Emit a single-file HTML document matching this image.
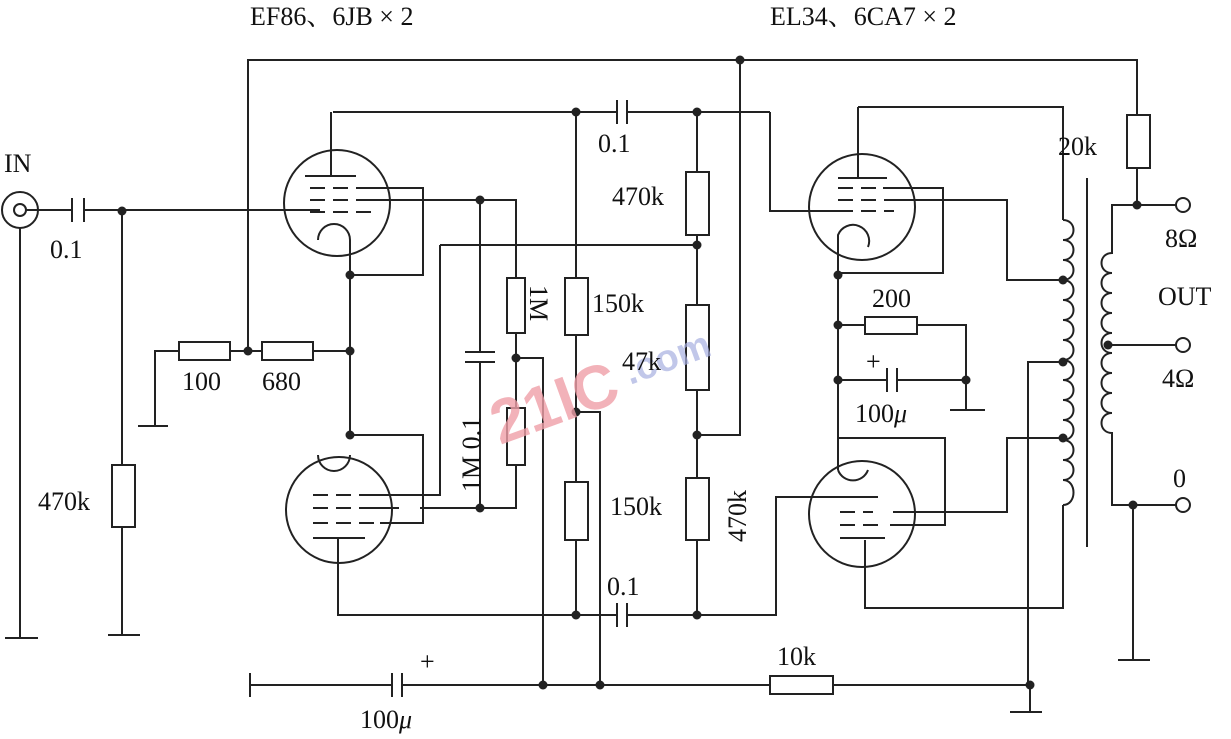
<!DOCTYPE html>
<html><head><meta charset="utf-8"><style>
html,body{margin:0;padding:0;background:#fff;}
svg{display:block;}
text{font-family:"Liberation Serif","Noto Serif CJK SC",serif;fill:#111;font-size:26px;}
</style></head><body>
<svg width="1231" height="739" viewBox="0 0 1231 739" xmlns="http://www.w3.org/2000/svg">
<g stroke="#222" stroke-width="2" fill="none">
<circle cx="20" cy="210" r="18"/><circle cx="20" cy="210" r="6"/>
<path d="M20 228V638M5 638H38"/>
<path d="M26 210H72M84 210H320"/>
<path d="M72 198V222M84 198V222"/>
<path d="M122 210V465M122 527V635M108 635H140"/>
<rect x="112" y="465" width="23" height="62"/>
<path d="M155 426V351H179M230 351H262M313 351H350M138 426H168"/>
<rect x="179" y="342" width="51" height="18"/><rect x="262" y="342" width="51" height="18"/>
<path d="M248 351V60H1137V115M1137 168V205H1176"/>
<rect x="1127" y="115" width="23" height="53"/>
<circle cx="337" cy="203" r="53"/>
<path d="M331 112V176M305 176H356M310 188h15m8 0h15m8 0h30M310 200h15m8 0h15m8 0h40M310 212h15m8 0h15m8 0h15"/>
<path d="M318 240a16 16 0 0 1 32 0V435"/>
<path d="M370 188H423V275H350"/>
<path d="M384 200H516V278M516 333V408M516 465V508H420"/>
<rect x="507" y="278" width="18" height="55"/><rect x="507" y="408" width="18" height="57"/>
<path d="M480 200V352M480 362V508M465 352H495M465 362H495"/>
<path d="M516 358H543V685"/>
<circle cx="339" cy="510" r="53"/>
<path d="M318 455a16 16 0 0 0 32 0M350 435H423V523H380"/>
<path d="M313 495h15m8 0h15m8 0h30M313 508h15m8 0h15m8 0h40M313 523h15m8 0h15m8 0h15M313 538H365"/>
<path d="M440 245V495H388M440 245H697"/>
<path d="M338 538V615H617M627 615H776V497H870M617 603V627M627 603V627"/>
<path d="M333 112H617M627 112H770M617 100V124M627 100V124"/>
<path d="M576 112V278M576 335V482M576 540V615M576 412H600V685"/>
<rect x="565" y="278" width="23" height="57"/><rect x="565" y="482" width="23" height="58"/>
<path d="M697 112V172M697 235V305M697 390V478M697 540V615M740 60V435H697"/>
<rect x="686" y="172" width="23" height="63"/><rect x="686" y="305" width="23" height="85"/><rect x="686" y="478" width="23" height="62"/>
<path d="M250 673V697M250 685H392M402 685H770M833 685H1030V712M1010 712H1042M392 673V697M402 673V697"/>
<rect x="770" y="676" width="63" height="18"/>
<path d="M770 112V211H850"/>
<circle cx="862" cy="207" r="53"/>
<path d="M858 107V178M838 178H887M838 188h15m8 0h15m8 0h30M838 200h15m8 0h15m8 0h35M838 211h15m8 0h15m8 0h10"/>
<path d="M838 470V235a16 16 0 0 1 30 12"/>
<path d="M883 188H943V273H838M890 200H1007V280H1063"/>
<path d="M838 325H865M917 325H966V410M950 410H985M838 380H887M897 380H966"/>
<rect x="865" y="317" width="52" height="17"/>
<path d="M887 368V392M897 368V392"/>
<path d="M858 107H1063V220"/>
<circle cx="862" cy="514" r="53"/>
<path d="M838 438H945V525H890M838 470a16 16 0 0 0 30 0"/>
<path d="M840 497h15m8 0h15M840 512h15m8 0h10m20 0H1007V438H1063M840 525h15m8 0h15M840 538H885"/>
<path d="M865 540V608H1063V505M1063 362H1028V685"/>
<path d="M1063 220c14 0 14 20 0 20c14 0 14 20 0 20c14 0 14 20 0 20c14 0 14 20 0 20c14 0 14 20 0 20c14 0 14 20 0 20c14 0 14 20 0 20c14 0 14 20 0 20c14 0 14 20 0 20c14 0 14 20 0 20c14 0 14 20 0 20c14 0 14 20 0 20c14 0 14 20 0 20c14 0 14 25 0 25"/>
<path d="M1087 178V547"/>
<path d="M1137 205H1112V253c-14 0-14 20 0 20c-14 0-14 20 0 20c-14 0-14 20 0 20c-14 0-14 20 0 20c-14 0-14 20 0 20c-14 0-14 20 0 20c-14 0-14 20 0 20c-14 0-14 20 0 20c-14 0-14 20 0 20V505H1176M1108 345H1176M1133 505V660M1118 660H1150"/>
<circle cx="1183" cy="205" r="7"/><circle cx="1183" cy="345" r="7"/><circle cx="1183" cy="505" r="7"/>
</g>
<g fill="#222">
<circle cx="122" cy="211" r="4.5"/><circle cx="248" cy="351" r="4.5"/><circle cx="350" cy="351" r="4.5"/>
<circle cx="350" cy="275" r="4.5"/><circle cx="350" cy="435" r="4.5"/><circle cx="480" cy="200" r="4.5"/>
<circle cx="480" cy="508" r="4.5"/><circle cx="516" cy="358" r="4.5"/><circle cx="576" cy="112" r="4.5"/>
<circle cx="697" cy="112" r="4.5"/><circle cx="697" cy="245" r="4.5"/><circle cx="697" cy="435" r="4.5"/>
<circle cx="576" cy="412" r="4.5"/><circle cx="576" cy="615" r="4.5"/><circle cx="697" cy="615" r="4.5"/>
<circle cx="740" cy="60" r="4.5"/><circle cx="543" cy="685" r="4.5"/><circle cx="600" cy="685" r="4.5"/>
<circle cx="1030" cy="685" r="4.5"/><circle cx="838" cy="275" r="4.5"/><circle cx="838" cy="325" r="4.5"/>
<circle cx="838" cy="380" r="4.5"/><circle cx="966" cy="380" r="4.5"/><circle cx="1063" cy="280" r="4.5"/>
<circle cx="1063" cy="362" r="4.5"/><circle cx="1063" cy="438" r="4.5"/><circle cx="1137" cy="205" r="4.5"/>
<circle cx="1108" cy="345" r="4.5"/><circle cx="1133" cy="505" r="4.5"/>
</g>
<text x="500" y="445" style="font-family:'Liberation Sans',sans-serif;font-weight:bold;font-size:62px;fill:#f0a0a8;opacity:.8" transform="rotate(-20 500 445)">21IC</text>
<text x="630" y="385" style="font-family:'Liberation Sans',sans-serif;font-weight:bold;font-size:38px;fill:#a8b0e0;opacity:.7" transform="rotate(-20 630 385)">.com</text>
<text x="250" y="25">EF86、6JB × 2</text>
<text x="770" y="25">EL34、6CA7 × 2</text>
<text x="4" y="172">IN</text>
<text x="50" y="258">0.1</text>
<text x="38" y="510">470k</text>
<text x="182" y="390">100</text>
<text x="262" y="390">680</text>
<text x="530" y="285" transform="rotate(90 530 285)">1M</text>
<text x="480" y="492" transform="rotate(-90 480 492)">1M 0.1</text>
<text x="592" y="312">150k</text>
<text x="622" y="370">47k</text>
<text x="610" y="515">150k</text>
<text x="612" y="205">470k</text>
<text x="746" y="542" transform="rotate(-90 746 542)">470k</text>
<text x="598" y="152">0.1</text>
<text x="607" y="595">0.1</text>
<text x="777" y="665">10k</text>
<text x="360" y="728">100<tspan font-style="italic">μ</tspan></text>
<text x="420" y="670">+</text>
<text x="1058" y="155">20k</text>
<text x="1165" y="247">8Ω</text>
<text x="1158" y="305">OUT</text>
<text x="1162" y="387">4Ω</text>
<text x="1173" y="487">0</text>
<text x="872" y="307">200</text>
<text x="855" y="422">100<tspan font-style="italic">μ</tspan></text>
<text x="866" y="370">+</text>
</svg>
</body></html>
